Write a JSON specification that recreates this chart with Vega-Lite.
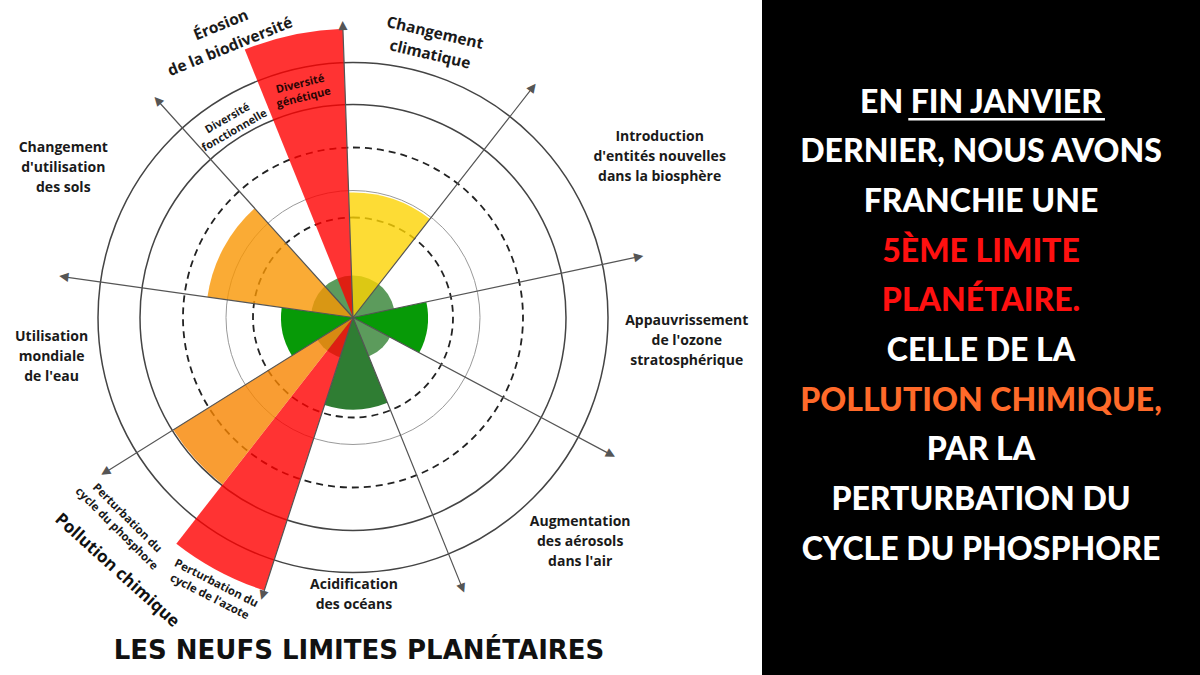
{
  "$schema": "https://vega.github.io/schema/vega-lite/v6.json",
  "padding": 0,
  "background": "#ffffff",
  "bounds": "flush",
  "spacing": 56,
  "config": {"view": {"stroke": null}},
  "resolve": {"scale": {"color": "independent"}},
  "datasets": {
    "anneaux": [
      {"r": 255, "trait": "plein"},
      {"r": 213, "trait": "plein"},
      {"r": 170, "trait": "tirets"},
      {"r": 127, "trait": "fin"},
      {"r": 100, "trait": "tirets"}
    ],
    "limites": [
      {"limite": "Changement climatique", "debut": -2, "fin": 38, "valeur": 125, "statut": "croissant"},
      {"limite": "Appauvrissement de l'ozone stratosphérique", "debut": 78, "fin": 118, "valeur": 75, "statut": "sûr"},
      {"limite": "Acidification des océans", "debut": 158, "fin": 198, "valeur": 92, "statut": "sûr (océans)"},
      {"limite": "Perturbation du cycle de l'azote", "debut": 198, "fin": 218, "valeur": 287, "statut": "très élevé"},
      {"limite": "Perturbation du cycle du phosphore", "debut": 218, "fin": 238, "valeur": 212, "statut": "élevé (phosphore)"},
      {"limite": "Utilisation mondiale de l'eau", "debut": 238, "fin": 278, "valeur": 72, "statut": "sûr"},
      {"limite": "Changement d'utilisation des sols", "debut": 278, "fin": 318, "valeur": 147, "statut": "élevé"},
      {"limite": "Diversité génétique", "debut": 338, "fin": 358, "valeur": 289, "statut": "très élevé"}
    ],
    "axes": [
      {"a": -2}, {"a": 38}, {"a": 78}, {"a": 118}, {"a": 158},
      {"a": 198}, {"a": 238}, {"a": 278}, {"a": 318}
    ],
    "etiquettes": [
      {"texte": "Introduction\nd'entités nouvelles\ndans la biosphère", "theta": 62.4, "r": 346},
      {"texte": "Appauvrissement\nde l'ozone\nstratosphérique", "theta": 94.1, "r": 334.6},
      {"texte": "Augmentation\ndes aérosols\ndans l'air", "theta": 134.7, "r": 319.6},
      {"texte": "Utilisation\nmondiale\nde l'eau", "theta": 262.5, "r": 304},
      {"texte": "Changement\nd'utilisation\ndes sols", "theta": 297.3, "r": 326}
    ],
    "erosion": [
      {"texte": "Érosion", "theta": 335.7, "r": 320.9},
      {"texte": "de la biodiversité", "theta": 335.6, "r": 297.4}
    ],
    "texte_droite": [
      {"ligne": 1, "texte": "EN FIN JANVIER", "ton": "blanc"},
      {"ligne": 2, "texte": "DERNIER, NOUS AVONS", "ton": "blanc"},
      {"ligne": 3, "texte": "FRANCHIE UNE", "ton": "blanc"},
      {"ligne": 4, "texte": "5ÈME LIMITE", "ton": "rouge"},
      {"ligne": 5, "texte": "PLANÉTAIRE.", "ton": "rouge"},
      {"ligne": 6, "texte": "CELLE DE LA", "ton": "blanc"},
      {"ligne": 7, "texte": "POLLUTION CHIMIQUE,", "ton": "orange"},
      {"ligne": 8, "texte": "PAR LA", "ton": "blanc"},
      {"ligne": 9, "texte": "PERTURBATION DU", "ton": "blanc"},
      {"ligne": 10, "texte": "CYCLE DU PHOSPHORE", "ton": "blanc"}
    ]
  },
  "hconcat": [
    {
      "width": 706,
      "height": 635,
      "title": {"text": "LES NEUFS LIMITES PLANÉTAIRES", "orient": "bottom", "anchor": "middle", "offset": 16, "dx": 6, "font": "DejaVu Sans", "fontSize": 26, "fontWeight": "bold", "color": "#111111", "baseline": "middle"},
      "layer": [
        {
          "data": {"name": "anneaux"},
          "transform": [{"filter": "datum.trait === 'plein'"}],
          "mark": {"type": "arc", "filled": false, "stroke": "#444444", "strokeWidth": 1.5},
          "encoding": {
            "theta": {"datum": 0, "type": "quantitative", "scale": {"domain": [0, 360], "range": [0, 6.283185307179586]}},
            "theta2": {"datum": 360},
            "radius": {"field": "r", "type": "quantitative", "stack": null, "scale": {"type": "linear", "domain": [0, 300], "range": [0, 300], "zero": true}}
          }
        },
        {
          "data": {"name": "anneaux"},
          "transform": [{"filter": "datum.trait === 'tirets'"}],
          "mark": {"type": "arc", "filled": false, "stroke": "#222222", "strokeWidth": 1.8, "strokeDash": [7, 5]},
          "encoding": {
            "theta": {"datum": 0, "type": "quantitative", "scale": {"domain": [0, 360], "range": [0, 6.283185307179586]}},
            "theta2": {"datum": 360},
            "radius": {"field": "r", "type": "quantitative", "stack": null, "scale": {"type": "linear", "domain": [0, 300], "range": [0, 300], "zero": true}}
          }
        },
        {
          "data": {"name": "anneaux"},
          "transform": [{"filter": "datum.trait === 'fin'"}],
          "mark": {"type": "arc", "filled": false, "stroke": "#9a9a9a", "strokeWidth": 1},
          "encoding": {
            "theta": {"datum": 0, "type": "quantitative", "scale": {"domain": [0, 360], "range": [0, 6.283185307179586]}},
            "theta2": {"datum": 360},
            "radius": {"field": "r", "type": "quantitative", "stack": null, "scale": {"type": "linear", "domain": [0, 300], "range": [0, 300], "zero": true}}
          }
        },
        {
          "data": {"values": [{"zone": "incertitude", "r": 42}]},
          "mark": {"type": "arc", "color": "#5c9b5c"},
          "encoding": {
            "theta": {"datum": 0, "type": "quantitative", "scale": {"domain": [0, 360], "range": [0, 6.283185307179586]}},
            "theta2": {"datum": 360},
            "radius": {"field": "r", "type": "quantitative", "stack": null, "scale": {"type": "linear", "domain": [0, 300], "range": [0, 300], "zero": true}}
          }
        },
        {
          "data": {"name": "limites"},
          "mark": {"type": "arc"},
          "encoding": {
            "theta": {"field": "debut", "type": "quantitative", "scale": {"domain": [0, 360], "range": [0, 6.283185307179586]}},
            "theta2": {"field": "fin"},
            "radius": {"field": "valeur", "type": "quantitative", "stack": null, "scale": {"type": "linear", "domain": [0, 300], "range": [0, 300], "zero": true}},
            "color": {"field": "statut", "type": "nominal", "legend": null, "scale": {"domain": ["sûr", "sûr (océans)", "croissant", "élevé", "élevé (phosphore)", "très élevé"], "range": ["#079a07", "#2f7d33", "#fcd302", "#f99602", "#f78400", "#ff0000"]}},
            "fillOpacity": {"condition": {"test": "datum.statut === 'sûr' || datum.statut === 'sûr (océans)'", "value": 1}, "value": 0.8}
          }
        },
        {
          "data": {"name": "axes"},
          "mark": {"type": "arc", "filled": false, "stroke": "#555555", "strokeWidth": 1.2},
          "encoding": {
            "theta": {"field": "a", "type": "quantitative", "scale": {"domain": [0, 360], "range": [0, 6.283185307179586]}},
            "theta2": {"field": "a"},
            "radius": {"datum": 290, "type": "quantitative", "scale": {"type": "linear", "domain": [0, 300], "range": [0, 300], "zero": true}},
            "radius2": {"datum": 0}
          }
        },
        {
          "data": {"name": "axes"},
          "mark": {"type": "text", "font": "DejaVu Sans", "fontSize": 12, "color": "#555555", "align": "center", "baseline": "middle"},
          "encoding": {
            "theta": {"field": "a", "type": "quantitative", "scale": {"domain": [0, 360], "range": [0, 6.283185307179586]}},
            "radius": {"datum": 293, "type": "quantitative", "scale": {"type": "linear", "domain": [0, 300], "range": [0, 300], "zero": true}},
            "angle": {"field": "a", "type": "quantitative", "scale": null},
            "text": {"value": "▲"}
          }
        },
        {
          "data": {"name": "etiquettes"},
          "mark": {"type": "text", "font": "Open Sans", "fontWeight": "bold", "fontSize": 14, "lineHeight": 20, "lineBreak": "\n", "color": "#1a1a1a", "align": "center", "baseline": "middle", "dy": -20},
          "encoding": {
            "theta": {"field": "theta", "type": "quantitative", "scale": {"domain": [0, 360], "range": [0, 6.283185307179586]}},
            "radius": {"field": "r", "type": "quantitative", "stack": null, "scale": {"type": "linear", "domain": [0, 300], "range": [0, 300], "zero": true}},
            "text": {"field": "texte"}
          }
        },
        {
          "data": {"values": [{"texte": "Acidification\ndes océans", "theta": 179.8, "r": 278}]},
          "mark": {"type": "text", "font": "Open Sans", "fontWeight": "bold", "fontSize": 14, "lineHeight": 20, "lineBreak": "\n", "color": "#1a1a1a", "align": "center", "baseline": "middle", "dy": -10},
          "encoding": {
            "theta": {"field": "theta", "type": "quantitative", "scale": {"domain": [0, 360], "range": [0, 6.283185307179586]}},
            "radius": {"field": "r", "type": "quantitative", "stack": null, "scale": {"type": "linear", "domain": [0, 300], "range": [0, 300], "zero": true}},
            "text": {"field": "texte"}
          }
        },
        {
          "data": {"values": [{"texte": "Changement\nclimatique", "theta": 16.2, "r": 285}]},
          "mark": {"type": "text", "font": "Open Sans", "fontWeight": "bold", "fontSize": 15.5, "lineHeight": 22, "lineBreak": "\n", "color": "#1a1a1a", "align": "center", "baseline": "middle", "angle": 13, "dy": -11},
          "encoding": {
            "theta": {"field": "theta", "type": "quantitative", "scale": {"domain": [0, 360], "range": [0, 6.283185307179586]}},
            "radius": {"field": "r", "type": "quantitative", "stack": null, "scale": {"type": "linear", "domain": [0, 300], "range": [0, 300], "zero": true}},
            "text": {"field": "texte"}
          }
        },
        {
          "data": {"name": "erosion"},
          "mark": {"type": "text", "font": "Open Sans", "fontWeight": "bold", "fontSize": 15.5, "color": "#1a1a1a", "align": "center", "baseline": "middle", "angle": -22},
          "encoding": {
            "theta": {"field": "theta", "type": "quantitative", "scale": {"domain": [0, 360], "range": [0, 6.283185307179586]}},
            "radius": {"field": "r", "type": "quantitative", "stack": null, "scale": {"type": "linear", "domain": [0, 300], "range": [0, 300], "zero": true}},
            "text": {"field": "texte"}
          }
        },
        {
          "data": {"values": [{"texte": "Diversité\ngénétique", "theta": 347.3, "r": 232}]},
          "mark": {"type": "text", "font": "Open Sans", "fontWeight": "bold", "fontSize": 11, "lineHeight": 14, "lineBreak": "\n", "color": "#2a0505", "align": "center", "baseline": "middle", "angle": -14, "dy": -7},
          "encoding": {
            "theta": {"field": "theta", "type": "quantitative", "scale": {"domain": [0, 360], "range": [0, 6.283185307179586]}},
            "radius": {"field": "r", "type": "quantitative", "stack": null, "scale": {"type": "linear", "domain": [0, 300], "range": [0, 300], "zero": true}},
            "text": {"field": "texte"}
          }
        },
        {
          "data": {"values": [{"texte": "Diversité\nfonctionnelle", "theta": 327.7, "r": 228}]},
          "mark": {"type": "text", "font": "Open Sans", "fontWeight": "bold", "fontSize": 11, "lineHeight": 14, "lineBreak": "\n", "color": "#1a1a1a", "align": "center", "baseline": "middle", "angle": -30, "dy": -7},
          "encoding": {
            "theta": {"field": "theta", "type": "quantitative", "scale": {"domain": [0, 360], "range": [0, 6.283185307179586]}},
            "radius": {"field": "r", "type": "quantitative", "stack": null, "scale": {"type": "linear", "domain": [0, 300], "range": [0, 300], "zero": true}},
            "text": {"field": "texte"}
          }
        },
        {
          "data": {"values": [{"texte": "Perturbation du\ncycle de l'azote", "theta": 207.2, "r": 307}]},
          "mark": {"type": "text", "font": "Open Sans", "fontWeight": "bold", "fontSize": 11.5, "lineHeight": 15, "lineBreak": "\n", "color": "#1a1a1a", "align": "center", "baseline": "middle", "angle": 27, "dy": -7.5},
          "encoding": {
            "theta": {"field": "theta", "type": "quantitative", "scale": {"domain": [0, 360], "range": [0, 6.283185307179586]}},
            "radius": {"field": "r", "type": "quantitative", "stack": null, "scale": {"type": "linear", "domain": [0, 300], "range": [0, 300], "zero": true}},
            "text": {"field": "texte"}
          }
        },
        {
          "data": {"values": [{"texte": "Perturbation du\ncycle du phosphore", "theta": 228.3, "r": 310}]},
          "mark": {"type": "text", "font": "Open Sans", "fontWeight": "bold", "fontSize": 11.5, "lineHeight": 15, "lineBreak": "\n", "color": "#1a1a1a", "align": "center", "baseline": "middle", "angle": 45, "dy": -7.5},
          "encoding": {
            "theta": {"field": "theta", "type": "quantitative", "scale": {"domain": [0, 360], "range": [0, 6.283185307179586]}},
            "radius": {"field": "r", "type": "quantitative", "stack": null, "scale": {"type": "linear", "domain": [0, 300], "range": [0, 300], "zero": true}},
            "text": {"field": "texte"}
          }
        },
        {
          "data": {"values": [{"texte": "Pollution chimique", "theta": 223, "r": 346}]},
          "mark": {"type": "text", "font": "Open Sans", "fontWeight": "bold", "fontSize": 17, "color": "#111111", "align": "center", "baseline": "middle", "angle": 42},
          "encoding": {
            "theta": {"field": "theta", "type": "quantitative", "scale": {"domain": [0, 360], "range": [0, 6.283185307179586]}},
            "radius": {"field": "r", "type": "quantitative", "stack": null, "scale": {"type": "linear", "domain": [0, 300], "range": [0, 300], "zero": true}},
            "text": {"field": "texte"}
          }
        }
      ]
    },
    {
      "width": 438,
      "height": 675,
      "view": {"fill": "#000000", "stroke": null},
      "layer": [
        {
          "data": {"name": "texte_droite"},
          "mark": {"type": "text", "font": "Lato", "fontWeight": 900, "fontSize": 32, "align": "center", "baseline": "middle"},
          "encoding": {
            "y": {"field": "ligne", "type": "quantitative", "axis": null, "scale": {"domain": [-1.0624, 12.519], "reverse": true, "nice": false, "zero": false}},
            "text": {"field": "texte"},
            "color": {"field": "ton", "type": "nominal", "legend": null, "scale": {"domain": ["blanc", "rouge", "orange"], "range": ["#ffffff", "#ff1010", "#ff6a2a"]}}
          }
        },
        {
          "data": {"values": [{"souligne": "FIN JANVIER"}]},
          "mark": {"type": "rule", "color": "#ffffff", "strokeWidth": 2.5},
          "encoding": {
            "x": {"datum": 0.334, "type": "quantitative", "axis": null, "scale": {"domain": [0, 1], "nice": false, "zero": false}},
            "x2": {"datum": 0.783},
            "y": {"datum": 1.338, "type": "quantitative"}
          }
        }
      ]
    }
  ]
}
